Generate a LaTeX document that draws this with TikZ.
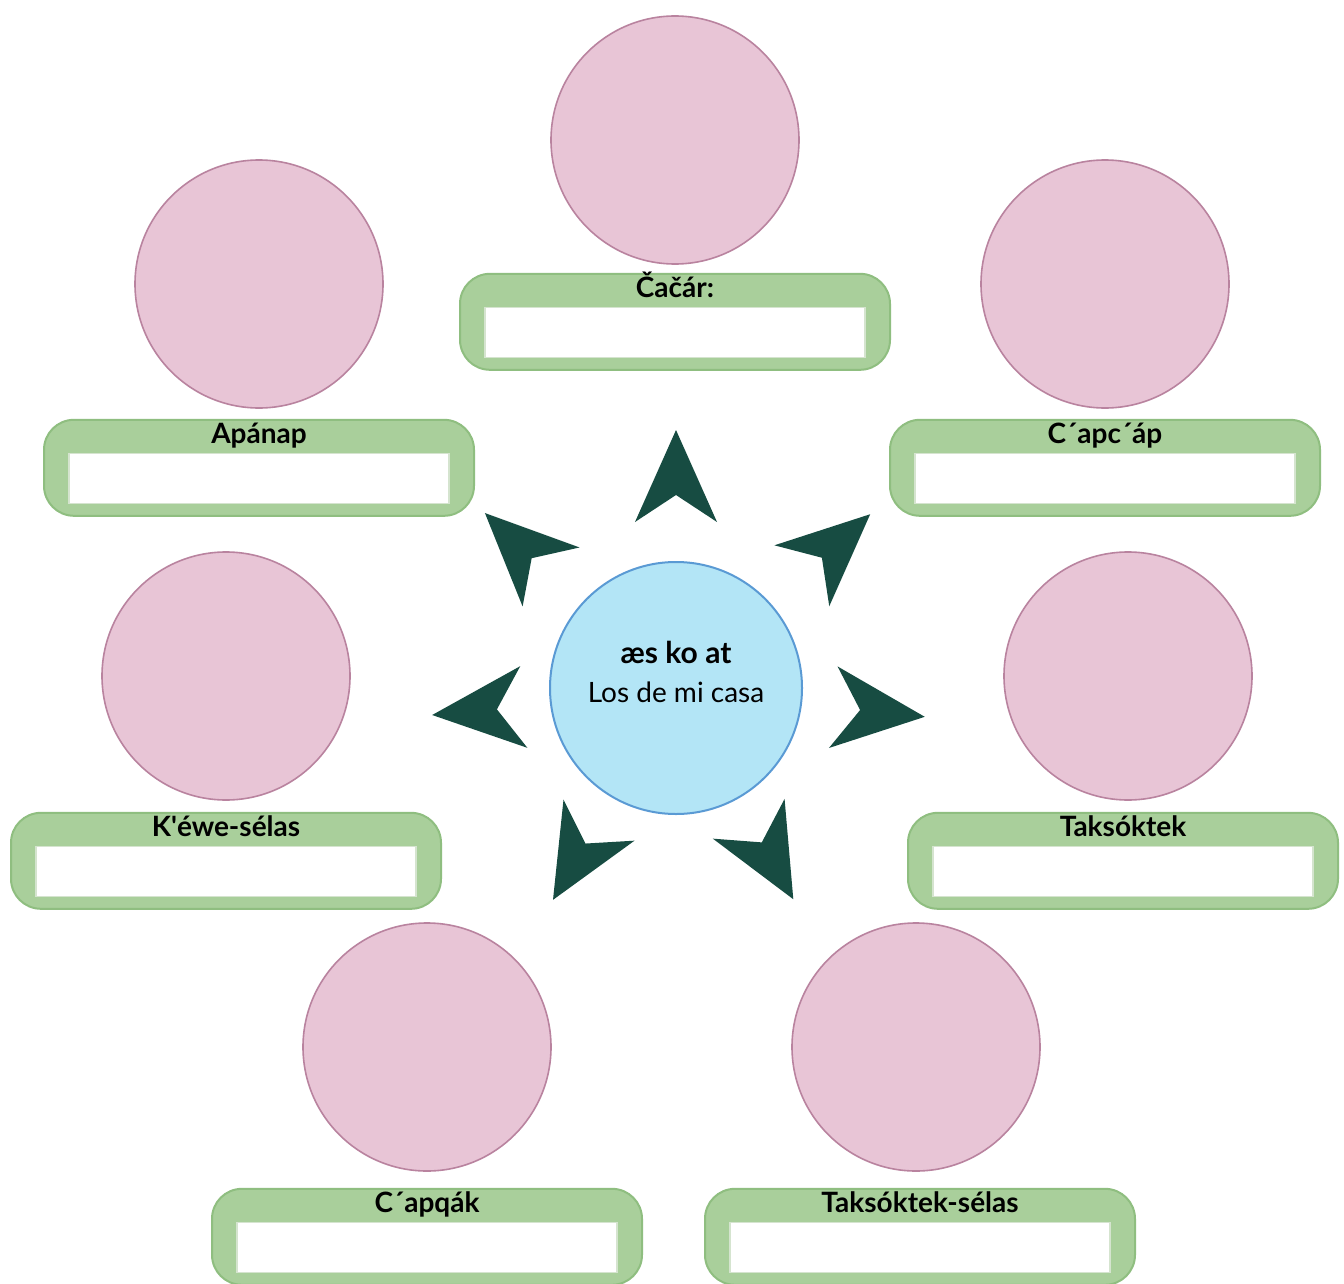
\documentclass[tikz,border=0pt]{standalone}
\usepackage{fontspec}
\setmainfont{Lato}
\usetikzlibrary{positioning}

\definecolor{photofill}{HTML}{E8C5D6}
\definecolor{photodraw}{HTML}{B9839F}
\definecolor{boxfill}{HTML}{A9CF9B}
\definecolor{boxdraw}{HTML}{8FBE80}
\definecolor{fielddraw}{HTML}{D5E4CF}
\definecolor{hubfill}{HTML}{B3E5F6}
\definecolor{hubdraw}{HTML}{5A9AD4}
\definecolor{spikefill}{HTML}{174C42}

\begin{document}
\begin{tikzpicture}[
    x=0.5pt, y=-0.5pt,
    photo/.style={
        circle,
        draw=photodraw,
        fill=photofill,
        line width=0.8pt,
        minimum size=124pt,
        inner sep=0pt
    },
    namebox/.style={
        rectangle,
        rounded corners=15pt,
        draw=boxdraw,
        fill=boxfill,
        line width=1pt,
        minimum width=215pt,
        minimum height=48pt,
        inner sep=0pt
    },
    fieldbox/.style={
        rectangle,
        draw=fielddraw,
        fill=white,
        line width=0.6pt,
        minimum width=190pt,
        minimum height=25pt,
        inner sep=0pt
    },
    boxlabel/.style={anchor=base, inner sep=0pt, font=\bfseries\fontsize{14}{16}\selectfont},
    hub/.style={
        circle,
        draw=hubdraw,
        fill=hubfill,
        line width=1pt,
        minimum size=126pt,
        inner sep=0pt
    },
    spike/.style={fill=spikefill}
]

\fill[white] (0,0) rectangle (1344,1284);
\useasboundingbox (0,0) rectangle (1344,1284);

% Photos
\node[photo] (cacar)   at (675,140)  {};
\node[photo] (apanap)  at (259,284)  {};
\node[photo] (capcap)  at (1105,284) {};
\node[photo] (kewe)    at (226,676)  {};
\node[photo] (taks)    at (1128,676) {};
\node[photo] (capqak)  at (427,1047) {};
\node[photo] (takssel) at (916,1047) {};

% Name boxes
\node[namebox] (cacar-b)   [below=4pt of cacar]   {};
\node[namebox] (apanap-b)  [below=5pt of apanap]  {};
\node[namebox] (capcap-b)  [below=5pt of capcap]  {};
\node[namebox] (kewe-b)    [below=5.5pt of kewe]  {};
\node[namebox] (taks-b)    [below=5.5pt of taks, xshift=-2.5pt] {};
\node[namebox] (capqak-b)  [below=8pt of capqak]  {};
\node[namebox] (takssel-b) [below=8pt of takssel, xshift=2pt] {};

% Blank fields and labels
\foreach \n/\t in {cacar/Čačár:, apanap/Apánap, capcap/C´apc´áp, kewe/K\textquotesingle éwe-sélas,
                   taks/Taksóktek, capqak/C´apqák, takssel/Taksóktek-sélas}{
    \node[fieldbox] (\n-f) at ([yshift=-5.5pt]\n-b.center) {};
    \node[boxlabel] (\n-l) at ([yshift=-12.5pt]\n-b.north) {\t};
}

% Centre
\node[hub] (hub) at (676,688) {};
\node[anchor=base, inner sep=0pt, font=\bfseries\fontsize{15}{18}\selectfont] (title)
    at ([yshift=12.5pt]hub.center) {æs ko at};
\node[anchor=base, inner sep=0pt, font=\fontsize{14}{17}\selectfont] (subtitle)
    at ([yshift=-7pt]hub.center) {Los de mi casa};

% Spikes round the centre
\foreach \x/\y/\a in {676/476/90, 836/545/42, 879/712/-6, 771/859/-61,
                      576/860/-120, 478/711/185, 518/545/136}
    \fill[spike, shift={(\x,\y)}, rotate=\a] (46,0) -- (-46,41) -- (-19,0) -- (-46,-41) -- cycle;

\end{tikzpicture}
\end{document}
